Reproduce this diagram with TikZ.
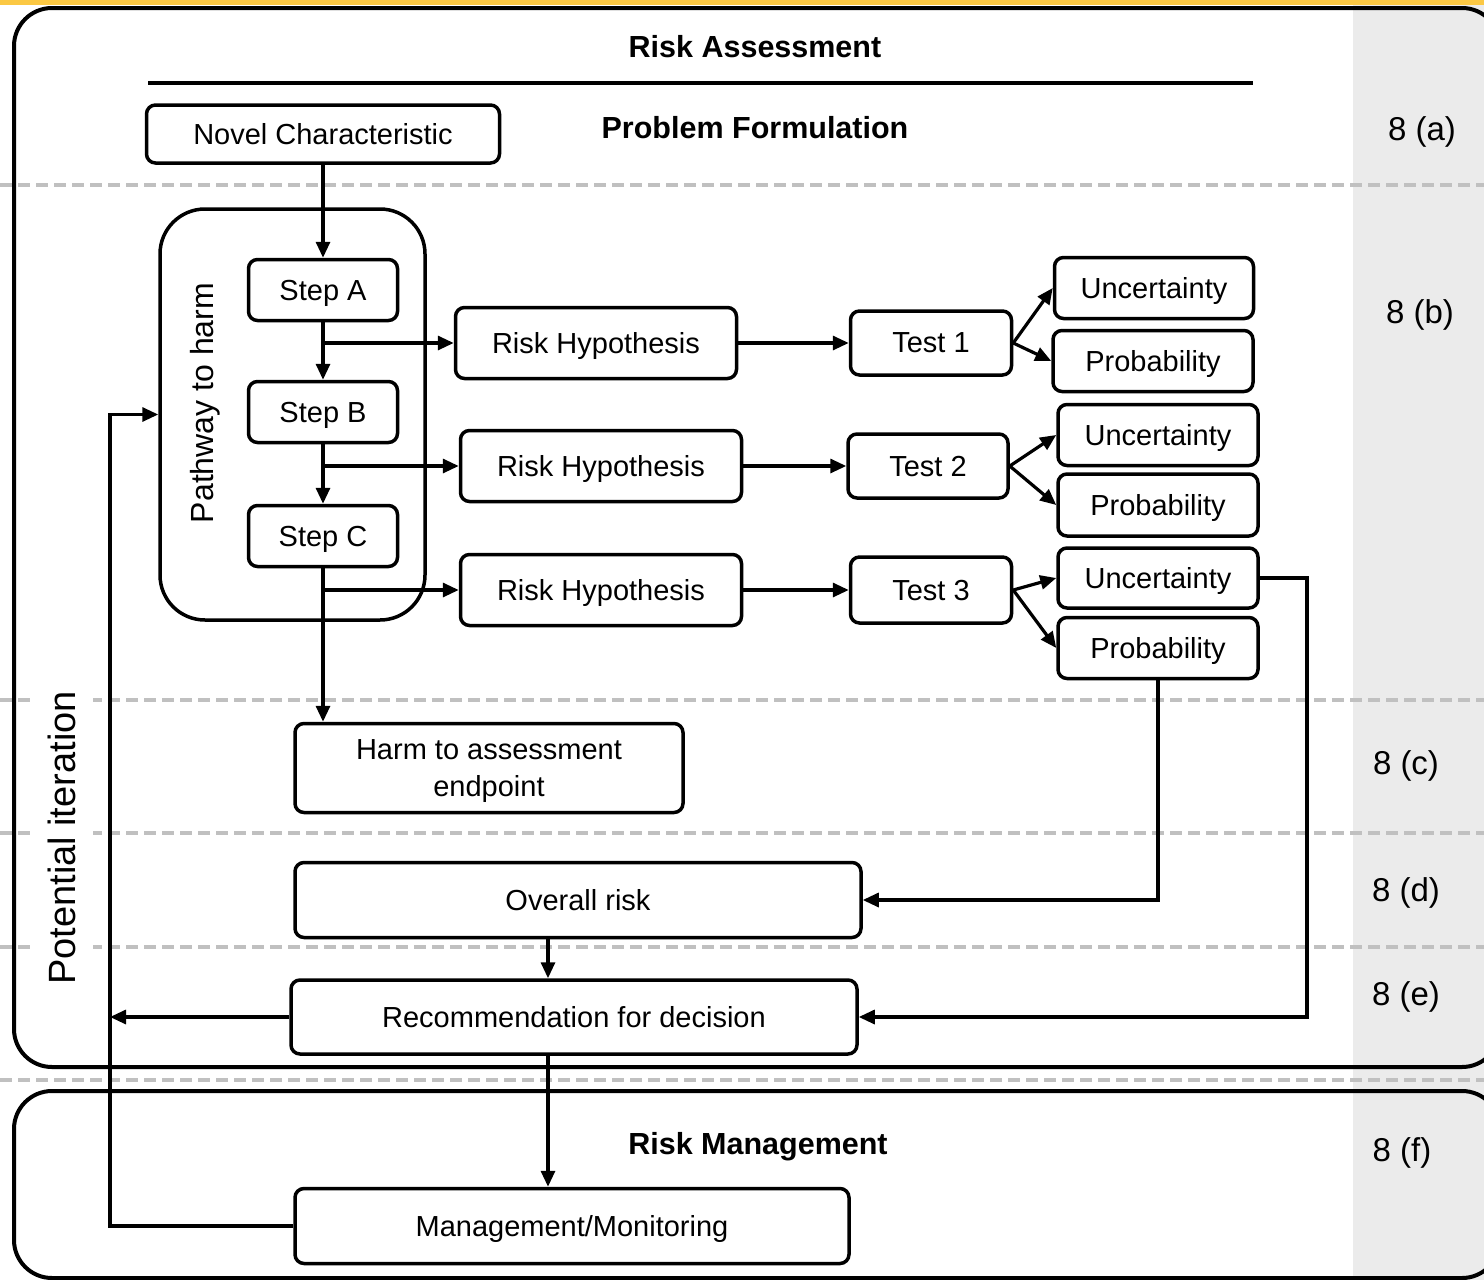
\documentclass[tikz,border=0pt]{standalone}
\usepackage{fontspec}
\setmainfont{Liberation Sans}
\usetikzlibrary{arrows.meta}

\definecolor{bandyellow}{RGB}{251,200,68}
\definecolor{sidegray}{RGB}{235,235,235}
\definecolor{dashgray}{RGB}{192,192,192}

\tikzset{
  box/.style={draw, line width=3.5pt, rounded corners=9pt, fill=white, align=center,
    inner sep=0pt, text depth=0pt, font=\fontsize{29}{37}\selectfont},
  flow/.style={line width=3.2pt, -{Triangle[length=16pt,width=14pt]}},
  sep/.style={dashgray, line width=4pt, dash pattern=on 12pt off 6pt},
  head/.style={font=\fontsize{30.5}{36}\selectfont\bfseries},
  tag/.style={text depth=0pt, font=\fontsize{33}{40}\selectfont},
}

\begin{document}
\begin{tikzpicture}[x=1pt, y=-1pt]
			\useasboundingbox (0,0) rectangle (1484,1280);
			\clip (0,0) rectangle (1484,1280);
			% background bands
			\fill[sidegray] (1353,5) rectangle (1484,1280);
			\fill[bandyellow] (0,0) rectangle (1484,5);
			\foreach \y in {185, 700, 833, 947, 1080}
				\draw[sep] (0,\y) -- (1484,\y);
			% assessment and management frames
			\draw[line width=4pt, rounded corners=38pt] (14,8) rectangle (1500,1067);
			\draw[line width=4pt, rounded corners=38pt] (14,1091) rectangle (1500,1278);
			\draw[line width=4pt] (148,83) -- (1253,83);
			\node[head] (assess) at (755,47) {Risk Assessment};
			\node[head] (problem) at (755,128) {Problem Formulation};
			\node[head] (manhead) at (758,1147) {Risk Management};
			\node[rotate=90, fill=white, inner xsep=6pt, inner ysep=17pt, font=\fontsize{38}{44}\selectfont] (iterate) at (62,838) {Potential iteration};
			% phase tags
			\node[tag] (tagA) at (1422,129) {8 (a)};
			\node[tag] (tagB) at (1420,312) {8 (b)};
			\node[tag] (tagC) at (1406,763) {8 (c)};
			\node[tag] (tagD) at (1406,890) {8 (d)};
			\node[tag] (tagE) at (1406,994) {8 (e)};
			\node[tag] (tagF) at (1402,1150) {8 (f)};
			% pathway to harm
			\node[draw, line width=3.5pt, rounded corners=45pt, minimum width=265pt, minimum height=411pt] (path) at (292.5,414.5) {};
			\node[rotate=90, font=\fontsize{32}{38}\selectfont] (pathlabel) at (205,403) {Pathway to harm};
			\node[box, minimum width=353pt, minimum height=58pt] (novel) at (323,134) {Novel Characteristic};
			\node[box, minimum width=149pt, minimum height=61pt] (stepA) at (323,290) {Step A};
			\node[box, minimum width=149pt, minimum height=61pt] (stepB) at (323,412) {Step B};
			\node[box, minimum width=149pt, minimum height=61pt] (stepC) at (323,536) {Step C};
			% hypotheses and tests
			\node[box, minimum width=281pt, minimum height=71pt] (rh1) at (596,343) {Risk Hypothesis};
			\node[box, minimum width=281pt, minimum height=71pt] (rh2) at (601,466) {Risk Hypothesis};
			\node[box, minimum width=281pt, minimum height=71pt] (rh3) at (601,590) {Risk Hypothesis};
			\node[box, minimum width=161pt, minimum height=64pt] (t1) at (931,343) {Test 1};
			\node[box, minimum width=160pt, minimum height=64pt] (t2) at (928,466) {Test 2};
			\node[box, minimum width=161pt, minimum height=66pt] (t3) at (931,590) {Test 3};
			\node[box, minimum width=199pt, minimum height=61pt] (u1) at (1154,288) {Uncertainty};
			\node[box, minimum width=200pt, minimum height=61pt] (p1) at (1153,361) {Probability};
			\node[box, minimum width=200pt, minimum height=61pt] (u2) at (1158,435) {Uncertainty};
			\node[box, minimum width=200pt, minimum height=62pt] (p2) at (1158,505) {Probability};
			\node[box, minimum width=200pt, minimum height=60pt] (u3) at (1158,578) {Uncertainty};
			\node[box, minimum width=200pt, minimum height=61pt] (p3) at (1158,648) {Probability};
			% outcomes
			\node[box, minimum width=388pt, minimum height=89pt] (harm) at (489,768) {Harm to assessment\\endpoint};
			\node[box, minimum width=566pt, minimum height=75pt] (overall) at (578,900) {Overall risk};
			\node[box, minimum width=566pt, minimum height=74pt] (rec) at (574,1017) {Recommendation for decision};
			\node[box, minimum width=554pt, minimum height=75pt] (manage) at (572,1226) {Management/Monitoring};
			\coordinate (trunk) at (548,0);
			\coordinate (bypass) at (1307,0);
			\coordinate (loop) at (110,0);
			% connectors
			\draw[flow] (novel) -- (stepA);
			\draw[flow] (stepA) -- (stepB);
			\draw[flow] (stepB) -- (stepC);
			\draw[flow] (stepA.south |- rh1.west) -- (rh1.west);
			\draw[flow] (stepB.south |- rh2.west) -- (rh2.west);
			\draw[flow] (stepC.south |- rh3.west) -- (rh3.west);
			\draw[flow] (stepC.south) -- (stepC.south |- harm.north);
			\draw[flow] (rh1) -- (t1);
			\draw[flow] (rh2) -- (t2);
			\draw[flow] (rh3) -- (t3);
			\foreach \t/\u/\p in {t1/u1/p1, t2/u2/p2, t3/u3/p3}
			{
				\draw[flow] (\t.east) -- (\u.west);
				\draw[flow] (\t.east) -- (\p.west);
			}
			\draw[flow] (p3.south) |- (overall.east);
			\draw[flow] (u3.east) -- (u3.east -| bypass) |- (rec.east);
			\draw[flow] (overall.south -| trunk) -- (rec.north -| trunk);
			\draw[flow] (rec.south -| trunk) -- (manage.north -| trunk);
			\draw[flow] (rec.west) -- (rec.west -| loop);
			\draw[flow] (manage.west) -| (loop |- path.west) -- (path.west);
		\end{tikzpicture}
\end{document}
